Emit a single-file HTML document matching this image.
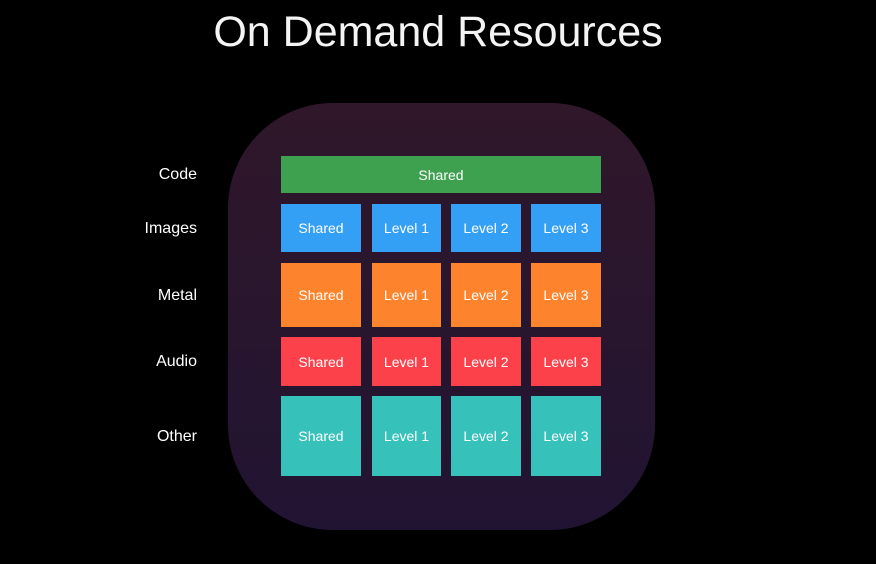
<!DOCTYPE html>
<html><head><meta charset="utf-8"><style>
html,body{margin:0;padding:0;background:#000;}
body{width:876px;height:564px;position:relative;overflow:hidden;font-family:"Liberation Sans","DejaVu Sans",sans-serif;color:#fff;}
.title{position:absolute;left:0;width:876px;top:8px;text-align:center;font-size:43px;font-weight:300;color:#f4f4f4;}
.bg{position:absolute;left:228px;top:103px;width:427px;height:427px;border-radius:105px;background:linear-gradient(#30172a,#211432);}
.lbl{position:absolute;right:679px;font-size:16px;color:#fff;text-align:right;transform:translateY(-50%);}
.b{position:absolute;display:flex;align-items:center;justify-content:center;font-size:14px;color:#fff;box-sizing:border-box;}
</style></head><body>
<div class="title">On Demand Resources</div>
<div class="bg"></div>
<div class="lbl" style="top:175px">Code</div>
<div class="lbl" style="top:229px">Images</div>
<div class="lbl" style="top:296px">Metal</div>
<div class="lbl" style="top:362px">Audio</div>
<div class="lbl" style="top:437px">Other</div>

<div class="b" style="left:281px;top:156px;width:320px;height:37px;background:#3ea150;">Shared</div>

<div class="b" style="left:281px;top:204px;width:80px;height:48px;background:#339ff5;">Shared</div>
<div class="b" style="left:372px;top:204px;width:69px;height:48px;background:#339ff5;">Level 1</div>
<div class="b" style="left:451px;top:204px;width:70px;height:48px;background:#339ff5;">Level 2</div>
<div class="b" style="left:531px;top:204px;width:70px;height:48px;background:#339ff5;">Level 3</div>

<div class="b" style="left:281px;top:263px;width:80px;height:64px;background:#fd842c;">Shared</div>
<div class="b" style="left:372px;top:263px;width:69px;height:64px;background:#fd842c;">Level 1</div>
<div class="b" style="left:451px;top:263px;width:70px;height:64px;background:#fd842c;">Level 2</div>
<div class="b" style="left:531px;top:263px;width:70px;height:64px;background:#fd842c;">Level 3</div>

<div class="b" style="left:281px;top:337px;width:80px;height:49px;background:#fd414b;">Shared</div>
<div class="b" style="left:372px;top:337px;width:69px;height:49px;background:#fd414b;">Level 1</div>
<div class="b" style="left:451px;top:337px;width:70px;height:49px;background:#fd414b;">Level 2</div>
<div class="b" style="left:531px;top:337px;width:70px;height:49px;background:#fd414b;">Level 3</div>

<div class="b" style="left:281px;top:396px;width:80px;height:80px;background:#36c1bb;">Shared</div>
<div class="b" style="left:372px;top:396px;width:69px;height:80px;background:#36c1bb;">Level 1</div>
<div class="b" style="left:451px;top:396px;width:70px;height:80px;background:#36c1bb;">Level 2</div>
<div class="b" style="left:531px;top:396px;width:70px;height:80px;background:#36c1bb;">Level 3</div>
</body></html>
